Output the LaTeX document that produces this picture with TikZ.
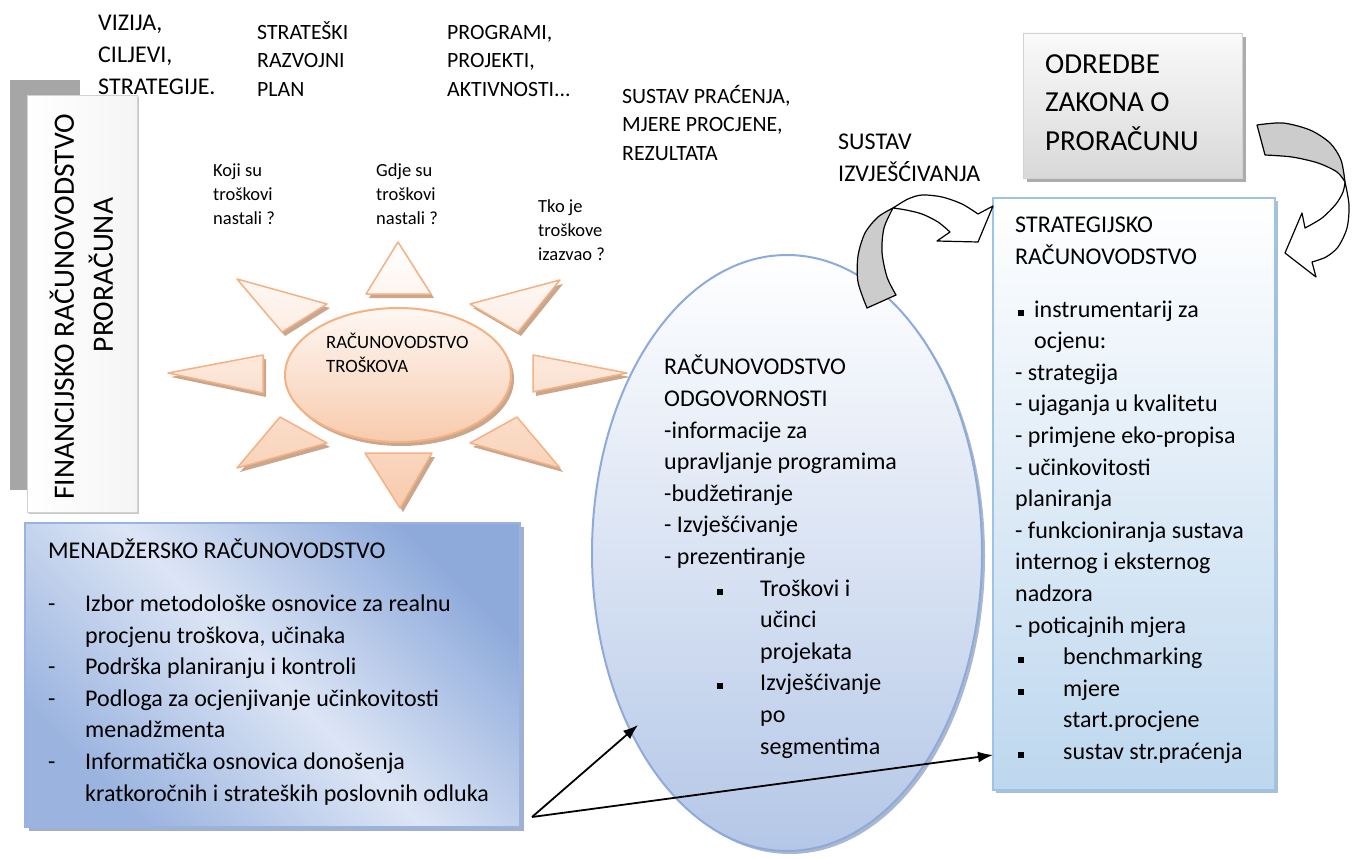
\documentclass[tikz,border=0pt]{standalone}
\usepackage{fontspec}
\setmainfont{Carlito}
\usepackage{tikz}
\usetikzlibrary{shapes.geometric,shadows,arrows.meta}
\definecolor{peach}{HTML}{F4B183}
\definecolor{peachfill}{HTML}{F8CBAD}
\definecolor{sunshadow}{HTML}{C9A68E}
\definecolor{paleblue}{HTML}{B4C7E7}
\definecolor{ringblue}{HTML}{8EAADB}
\definecolor{boxblue}{HTML}{9DC3E6}
\definecolor{boxfill}{HTML}{BDD7EE}
\definecolor{mlight}{HTML}{DCE5F5}
\definecolor{mdark}{HTML}{8EAADB}
\definecolor{greyshadow}{HTML}{A6A6A6}
\definecolor{bandgrey}{HTML}{CCCCCC}

\pgfdeclarehorizontalshading{mgmtshade}{100bp}{color(0bp)=(mdark!85!mlight); color(25bp)=(mdark!85!mlight); color(50bp)=(mlight); color(75bp)=(mdark); color(100bp)=(mdark)}

\newcommand{\sq}{\rule[1.5pt]{6pt}{6pt}}
\newcommand{\sunrays}{%
  (398,242) -- (366,294) -- (431,294) -- cycle
  (365,453) -- (432,453) -- (400,508) -- cycle
  (168,373) -- (263,355) -- (263,393) -- cycle
  (627,373) -- (533,355) -- (533,392) -- cycle
  (237,279) -- (327,304) -- (282,332) -- cycle
  (560,280) -- (470,304) -- (518,332) -- cycle
  (237,468) -- (280,417) -- (327,443) -- cycle
  (560,468) -- (517,417) -- (470,443) -- cycle}

\begin{document}
\begin{tikzpicture}
  [
    x=1pt, y=-1pt,
    % text nodes are placed at the baseline of their last line
    txt/.style={inner sep=0pt, anchor=base west, align=left},
    bodytxt/.style={txt, font=\fontsize{24}{31.6}\selectfont},
    captxt/.style={txt, font=\fontsize{21.8}{28.5}\selectfont},
    asktxt/.style={txt, font=\fontsize{18.5}{23.8}\selectfont},
    lawtxt/.style={txt, font=\fontsize{29}{38.5}\selectfont},
    sidetxt/.style={inner sep=0pt, rotate=90, font=\fontsize{29.5}{36}\selectfont},
    panel/.style={rectangle, inner sep=0pt},
    band/.style={draw=black, line width=1.2pt, line join=round},
    link/.style={line width=1.8pt, -{Latex[length=15pt, width=11pt]}}
  ]
  \useasboundingbox (0,0) rectangle (1360,859);

  % left column
  \node[panel, fill=greyshadow, minimum width=70pt, minimum height=410pt] (sideback) at (45,285) {};
  \node[panel, draw=gray!35, left color=white, right color=gray!8, minimum width=110pt, minimum height=417pt,
        drop shadow={shadow xshift=2pt, shadow yshift=-2pt, fill=gray!45, opacity=1}] (side) at (82,303.5) {};
  \node[sidetxt] (sideA) at (62,307) {FINANCIJSKO RAČUNOVODSTVO};
  \node[sidetxt] (sideB) at (101,275) {PRORAČUNA};

  % labels along the top
  \node[bodytxt] (vision) at (98,94) {VIZIJA,\\CILJEVI,\\STRATEGIJE.};
  \node[captxt] (plan) at (257,96) {STRATEŠKI\\RAZVOJNI\\PLAN};
  \node[captxt] (progs) at (447,96) {PROGRAMI,\\PROJEKTI,\\AKTIVNOSTI...};
  \node[captxt] (monitor) at (622,160) {SUSTAV PRAĆENJA,\\MJERE PROCJENE,\\REZULTATA};
  \node[bodytxt] (reporting) at (838,181.5) {SUSTAV\\IZVJEŠĆIVANJA};
  \node[asktxt] (askwhat) at (213,224.5) {Koji su\\troškovi\\nastali ?};
  \node[asktxt] (askwhere) at (376,224.5) {Gdje su\\troškovi\\nastali ?};
  \node[asktxt] (askwho) at (538,260.5) {Tko je\\troškove\\izazvao ?};

  % sun
  \fill[sunshadow, shift={(3,4)}] \sunrays;
  \shade[draw=peach, line width=1.5pt, line join=round, top color=white, bottom color=peachfill] \sunrays;
  \node[ellipse, inner sep=0pt, draw=peach, line width=2pt, minimum width=226pt, minimum height=134pt,
        top color=peachfill!15!white, bottom color=peachfill,
        drop shadow={shadow xshift=3pt, shadow yshift=-4pt, fill=sunshadow, opacity=1}] (costs) at (398,375) {};
  \node[txt, font=\fontsize{18.8}{24.5}\selectfont] (coststxt) at (326,372.5) {RAČUNOVODSTVO\\TROŠKOVA};

  % responsibility ellipse
  \node[ellipse, inner sep=0pt, draw=ringblue, line width=2pt, minimum width=390pt, minimum height=596pt,
        top color=white, bottom color=paleblue,
        drop shadow={shadow xshift=3pt, shadow yshift=-3pt, fill=ringblue!60!gray, opacity=0.7}] (resp) at (787,553) {};
  \node[bodytxt] (resptxt) at (664,754) {RAČUNOVODSTVO\\ODGOVORNOSTI\\-informacije za\\upravljanje programima\\-budžetiranje\\- Izvješćivanje\\- prezentiranje\\
    \hspace*{53pt}\makebox[43pt][l]{\sq}Troškovi i\\
    \hspace*{96pt}učinci\\
    \hspace*{96pt}projekata\\
    \hspace*{53pt}\makebox[43pt][l]{\sq}Izvješćivanje\\
    \hspace*{96pt}po\\
    \hspace*{96pt}segmentima};

  % management accounting
  \node[panel, draw=mdark!90, line width=1.5pt, minimum width=495pt, minimum height=304pt,
        shade, shading=mgmtshade, shading angle=45,
        drop shadow={shadow xshift=4pt, shadow yshift=-4pt, fill=mdark!70!gray, opacity=0.8}] (mgmt) at (272.5,675) {};
  \node[bodytxt] (mgmttxt) at (48,801) {MENADŽERSKO RAČUNOVODSTVO\\[21pt]
    \makebox[37pt][l]{-}Izbor metodološke osnovice za realnu\\
    \hspace*{37pt}procjenu troškova, učinaka\\
    \makebox[37pt][l]{-}Podrška planiranju i kontroli\\
    \makebox[37pt][l]{-}Podloga za ocjenjivanje učinkovitosti\\
    \hspace*{37pt}menadžmenta\\
    \makebox[37pt][l]{-}Informatička osnovica donošenja\\
    \hspace*{37pt}kratkoročnih i strateških poslovnih odluka};

  % budget law
  \node[panel, draw=gray!35, top color=gray!4, bottom color=gray!30, minimum width=219pt, minimum height=145pt,
        drop shadow={shadow xshift=4pt, shadow yshift=-4pt, fill=gray!65, opacity=1}] (law) at (1132.5,105.5) {};
  \node[lawtxt] (lawtxt) at (1045,150) {ODREDBE\\ZAKONA O\\PRORAČUNU};

  % strategic accounting
  \node[panel, draw=boxblue, line width=2pt, top color=white, bottom color=boxfill, minimum width=282pt, minimum height=592pt,
        drop shadow={shadow xshift=3pt, shadow yshift=-3pt, fill=boxblue!70!gray, opacity=0.8}] (strat) at (1134,494) {};
  \node[bodytxt] (strattxt) at (1015,759.5) {STRATEGIJSKO\\RAČUNOVODSTVO\\[21pt]
    \hspace*{3pt}\makebox[16pt][l]{\sq}instrumentarij za\\
    \hspace*{19pt}ocjenu:\\
    - strategija\\
    - ujaganja u kvalitetu\\
    - primjene eko-propisa\\
    - učinkovitosti\\
    planiranja\\
    - funkcioniranja sustava\\
    internog i eksternog\\
    nadzora\\
    - poticajnih mjera\\
    \hspace*{3pt}\makebox[45pt][l]{\sq}benchmarking\\
    \hspace*{3pt}\makebox[45pt][l]{\sq}mjere\\
    \hspace*{48pt}start.procjene\\
    \hspace*{3pt}\makebox[45pt][l]{\sq}sustav str.praćenja};

  % curved arrows
  \draw[band, fill=white] plot[smooth] coordinates {(893,208) (908,199) (922,195) (942,197) (962,204) (978,214)}
    -- (993,206) -- (978,242) -- (937,241) -- (950,232)
    -- plot[smooth] coordinates {(950,232) (938,222) (922,214) (906,210) (893,208)} -- cycle;
  \draw[band, fill=bandgrey] plot[smooth] coordinates {(893,208) (878,217) (865,233) (858,256) (858,282) (867,308)}
    -- (896,295)
    -- plot[smooth] coordinates {(896,295) (887,277) (882,252) (884,228) (893,208)} -- cycle;

  \draw[band, fill=white] plot[smooth] coordinates {(1345,182) (1349,205) (1347,228) (1338,247) (1326,257) (1312,262)}
    -- (1316,277) -- (1285,253) -- (1302,213) -- (1305,228)
    -- plot[smooth] coordinates {(1305,228) (1322,218) (1336,204) (1343,192) (1345,182)} -- cycle;
  \draw[band, fill=bandgrey] plot[smooth] coordinates {(1257,125) (1283,123) (1310,130) (1330,143) (1341,160) (1345,182)}
    -- plot[smooth] coordinates {(1345,182) (1337,172) (1318,163) (1292,157) (1265,155)} -- cycle;

  % straight arrows
  \coordinate (src) at (532,817);
  \coordinate (resptip) at (638,725);
  \coordinate (strattip) at (993,755);
  \draw[link] (src) -- (resptip);
  \draw[link] (src) -- (strattip);
\end{tikzpicture}
\end{document}
